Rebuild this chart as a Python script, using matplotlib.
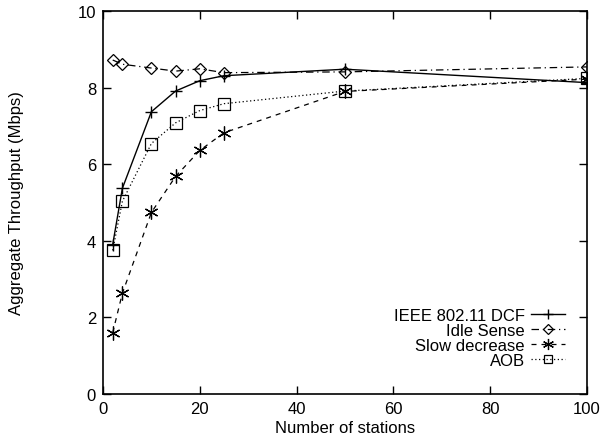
import matplotlib
matplotlib.use("Agg")
import matplotlib.pyplot as plt

plt.rcParams['font.family'] = ['Liberation Sans', 'DejaVu Sans']

stations = [2, 4, 10, 15, 20, 25, 50, 100]
dcf = [3.9, 5.37, 7.37, 7.91, 8.18, 8.31, 8.48, 8.13]
idle = [8.72, 8.61, 8.51, 8.43, 8.49, 8.39, 8.41, 8.54]
slow = [1.6, 2.63, 4.74, 5.68, 6.36, 6.82, 7.90, 8.22]
aob = [3.75, 5.03, 6.54, 7.08, 7.40, 7.58, 7.91, 8.24]

xticks = [0, 20, 40, 60, 80, 100]
yticks = [0, 2, 4, 6, 8, 10]

fig = plt.figure(figsize=(6.0, 4.39), dpi=100)
ax = fig.add_axes([0.1717, 0.1002, 0.8063, 0.8725])

ax.plot(stations, dcf, color='black', lw=1.0, ls='-', marker='+', ms=9,
        mew=1.0, label='IEEE 802.11 DCF')
ax.plot(stations, idle, color='black', lw=0.9, ls=(0, (6, 3, 1, 3)), marker='D', ms=6,
        mfc='none', mew=0.9, label='Idle Sense')
ax.plot(stations, slow, color='black', lw=0.9, ls=(0, (4, 4)), marker=(6, 2, 0), ms=10,
        mew=0.9, label='Slow decrease')
ax.plot(stations, aob, color='black', lw=0.9, ls=(0, (1, 2)), marker='s', ms=8,
        mfc='none', mew=0.9, label='AOB')

ax.set_xlim(0, 100)
ax.set_ylim(0, 10)
ax.set_xticks(xticks)
ax.set_yticks(yticks)
ax.tick_params(direction='in', top=True, right=True, length=6, width=1.0,
               labelsize=12, pad=5)
for s in ax.spines.values():
    s.set_linewidth(1.2)

ax.set_xlabel('Number of stations', fontsize=12)
ax.set_ylabel('Aggregate Throughput (Mbps)', fontsize=12)
ax.xaxis.set_label_coords(0.5, -0.068)
ax.yaxis.set_label_coords(-0.163, 0.5)

leg = ax.legend(loc='lower right', bbox_to_anchor=(0.968, 0.05), frameon=False,
                markerfirst=False, fontsize=12, handlelength=2.0,
                labelspacing=0.0, handletextpad=0.4, borderaxespad=0.0,
                markerscale=0.8)
for t in leg.get_texts():
    t.set_ha('right')
leg._legend_box.align = 'right'

fig.savefig('out.png', dpi=100)
